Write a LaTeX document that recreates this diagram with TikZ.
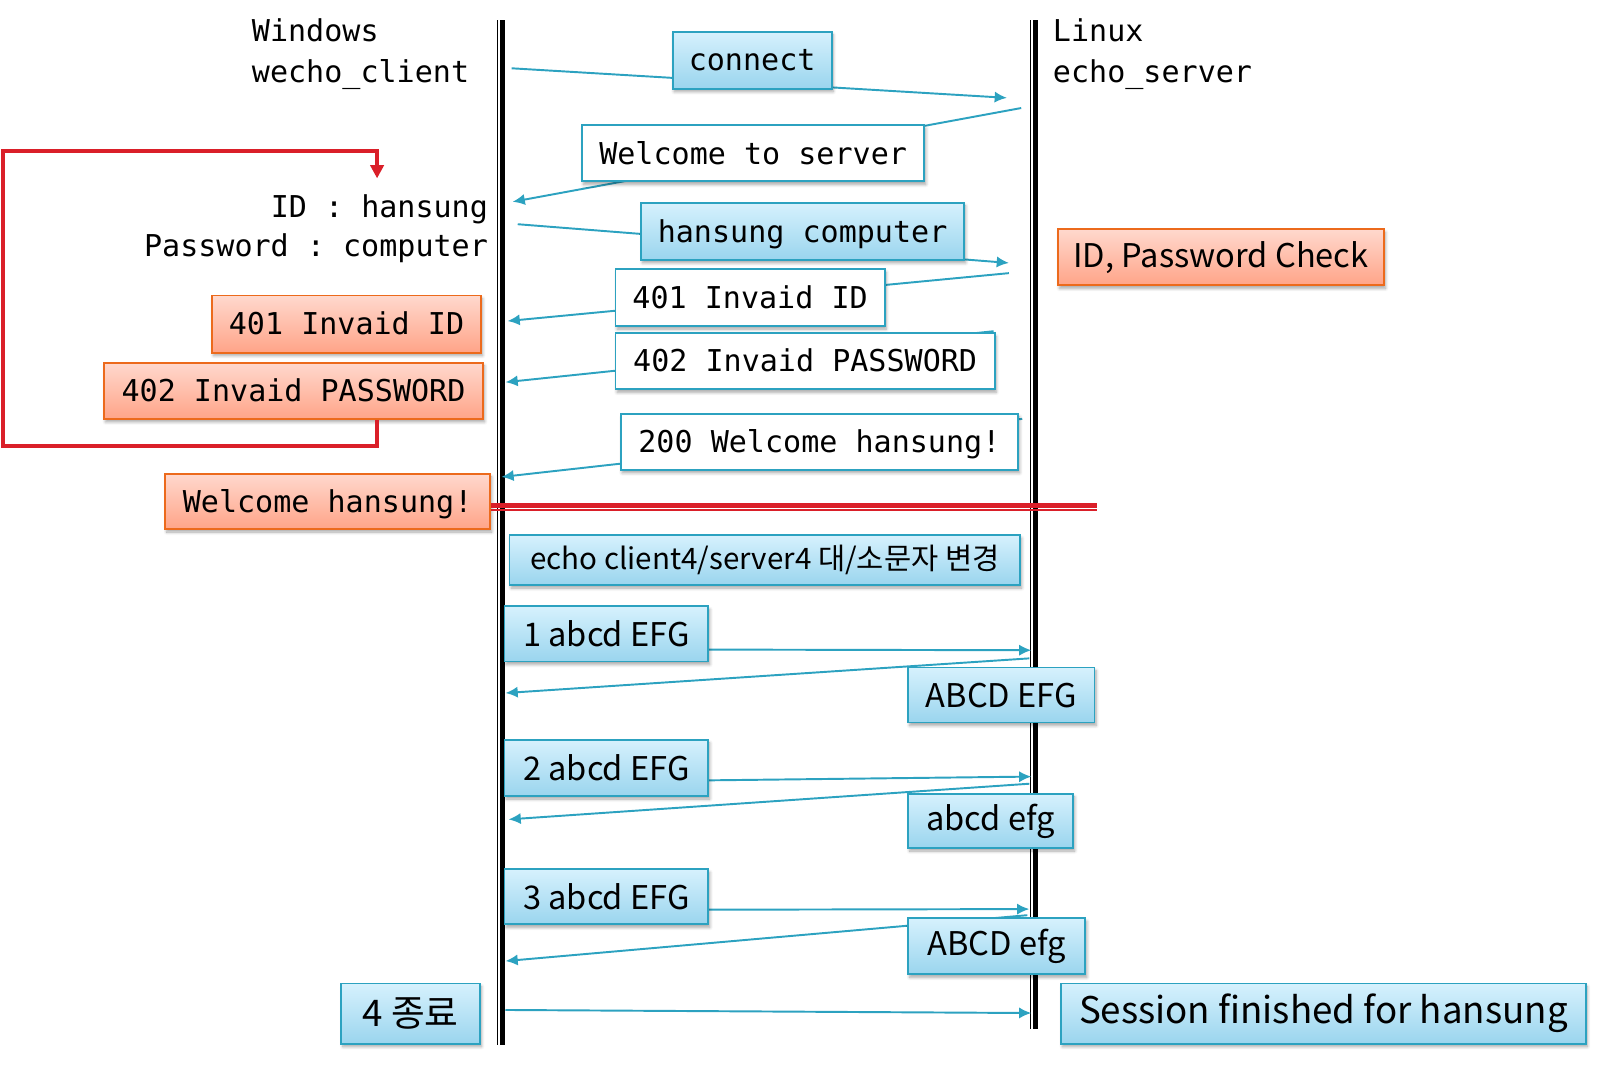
\documentclass[tikz,border=0pt]{standalone}
\usepackage{fontspec}
\setmainfont{Noto Sans CJK KR}
\setmonofont{DejaVu Sans Mono}
\usepackage{tikz}
\usetikzlibrary{arrows.meta,shadows.blur,positioning}
\definecolor{linkblue}{RGB}{44,162,192}
\definecolor{bluetop}{RGB}{214,241,253}
\definecolor{bluebot}{RGB}{154,213,238}
\definecolor{orangeline}{RGB}{236,106,28}
\definecolor{orangetop}{RGB}{255,216,205}
\definecolor{orangebot}{RGB}{255,164,136}
\definecolor{loopred}{RGB}{218,31,41}
\tikzset{
  softshadow/.style={blur shadow={shadow xshift=1.5pt, shadow yshift=-3pt,
      shadow blur radius=3pt, shadow blur steps=6, shadow opacity=35}},
  bluebox/.style={draw=linkblue, line width=1.8pt, top color=bluetop,
      bottom color=bluebot, softshadow},
  whitebox/.style={draw=linkblue, line width=1.8pt, fill=white, softshadow},
  orangebox/.style={draw=orangeline, line width=1.8pt, top color=orangetop,
      bottom color=orangebot, softshadow},
  codetext/.style={font=\ttfamily\fontsize{29.5}{40}\selectfont},
  boxcode/.style={codetext, text height=26pt, text depth=5pt},
  plaintext/.style={font=\fontsize{32}{38}\selectfont},
  msg/.style={draw=linkblue, line width=1.9pt, -{Latex[length=12pt,width=11pt]}},
}

\begin{document}
\begin{tikzpicture}[x=1pt, y=-1pt]
  \useasboundingbox (0,0) rectangle (1568,1053);
  % lifelines: thick line with a thin one beside it
  \coordinate (ctop) at (493,20);  \coordinate (cbot) at (493,1025);
  \coordinate (stop) at (1016,20); \coordinate (sbot) at (1016,1010);
  \foreach \t/\b in {ctop/cbot, stop/sbot} {
    \draw[line width=5pt] (\t) -- (\b);
    \draw[line width=1pt] ([xshift=-5pt]\t) -- ([xshift=-5pt]\b);
  }
  % message ends on both sides
  \foreach \n/\x/\y in {c1/502/67, s1/988/96, s2/1002/106, c2/503/198,
      c3/508/220, s3/990/258, s4/990/268, c4/498/315, s5/975/325, c5/496/375,
      s6/1003/411, c6/492/468, c7/497/637, s7/1012/638, s8/1010/646, c8/496/680,
      c9/497/768, s9/1012/762, s10/1010/769, c10/499/804, c11/497/893, s11/1010/892,
      s12/1008/898, c12/496/943, c13/496/991, s13/1012/994} {
    \coordinate (\n) at (\x,\y);
  }
  \foreach \a/\b in {c1/s1, s2/c2, c3/s3, s4/c4, s5/c5, s6/c6, c7/s7, s8/c8,
      c9/s9, s10/c10, c11/s11, s12/c12, c13/s13} {
    \draw[msg] (\a) -- (\b);
  }
  % login part
  \node[bluebox, boxcode, minimum width=156pt, minimum height=56pt] (connect) at (738,59) {connect};
  \node[whitebox, boxcode, minimum width=336pt, minimum height=55pt] (welcome) at (739,150.5) {Welcome to server};
  \node[bluebox, boxcode, minimum width=317pt, minimum height=56pt] (hcomp) at (787.5,227) {hansung computer};
  \node[whitebox, boxcode, minimum width=264pt, minimum height=56pt] (r401) at (736,292) {401 Invaid ID};
  \node[whitebox, boxcode, minimum width=372pt, minimum height=55pt] (r402) at (790,354.5) {402 Invaid PASSWORD};
  \node[whitebox, boxcode, minimum width=390pt, minimum height=55pt] (r200) at (804,433.5) {200 Welcome hansung!};
  \node[orangebox, plaintext, minimum width=320pt, minimum height=55pt] (check) at (1198,252.5) {ID, Password Check};
  \node[orangebox, boxcode, minimum width=264pt, minimum height=56pt] (l401) at (340,318) {401 Invaid ID};
  \node[orangebox, boxcode, minimum width=372pt, minimum height=55pt] (l402) at (288,383.5) {402 Invaid PASSWORD};
  \node[orangebox, boxcode, minimum width=319pt, minimum height=54pt] (lwelcome) at (321.5,492) {Welcome hansung!};
  % echo part
  \node[bluebox, font=\fontsize{29}{34}\selectfont, minimum width=501pt, minimum height=49pt] (echo) at (750.5,549.5) {echo client4/server4 대/소문자 변경};
  \node[bluebox, plaintext, minimum width=200pt, minimum height=54pt] (e1) at (595,622) {1 abcd EFG};
  \node[bluebox, plaintext, minimum width=183pt, minimum height=54pt] (r1) at (982.5,682) {ABCD EFG};
  \node[bluebox, plaintext, minimum width=200pt, minimum height=55pt] (e2) at (595,753.5) {2 abcd EFG};
  \node[bluebox, plaintext, minimum width=162pt, minimum height=53pt] (r2) at (972,805.5) {abcd efg};
  \node[bluebox, plaintext, minimum width=200pt, minimum height=54pt] (e3) at (595,880) {3 abcd EFG};
  \node[bluebox, plaintext, minimum width=174pt, minimum height=55pt] (r3) at (978,928.5) {ABCD efg};
  \node[bluebox, font=\fontsize{36}{40}\selectfont, minimum width=136pt, minimum height=59pt] (e4) at (403,994.5) {4 종료};
  \node[bluebox, font=\fontsize{36}{40}\selectfont, minimum width=515pt, minimum height=59pt] (bye) at (1298.5,994.5) {Session finished for hansung};
  % logged in
  \coordinate (cut) at (1076,496);
  \draw[loopred, line width=4pt] ([yshift=-4pt]lwelcome.east) -- (cut);
  \draw[loopred, line width=1.3pt] ([yshift=-8.5pt]lwelcome.east) -- ([yshift=-4.5pt]cut);
  % retry loop
  \coordinate (loopend) at (370,175);
  \draw[loopred, line width=4pt, -{Triangle[length=13pt,width=13pt]}]
    ([xshift=82pt]l402.south) -- ++(0,26) -| (3,148) -| (loopend);
  % host names and input
  \node[codetext, align=left, anchor=north west, inner sep=0] (client) at (247,18) {Windows\\wecho\_client};
  \node[codetext, align=left, anchor=north west, inner sep=0] (server) at (1033,18) {Linux\\echo\_server};
  \node[codetext, font=\ttfamily\fontsize{29.5}{38}\selectfont, align=right, anchor=north east, inner sep=0] (login) at (479,191) {ID : hansung\\Password : computer};
\end{tikzpicture}
\end{document}
